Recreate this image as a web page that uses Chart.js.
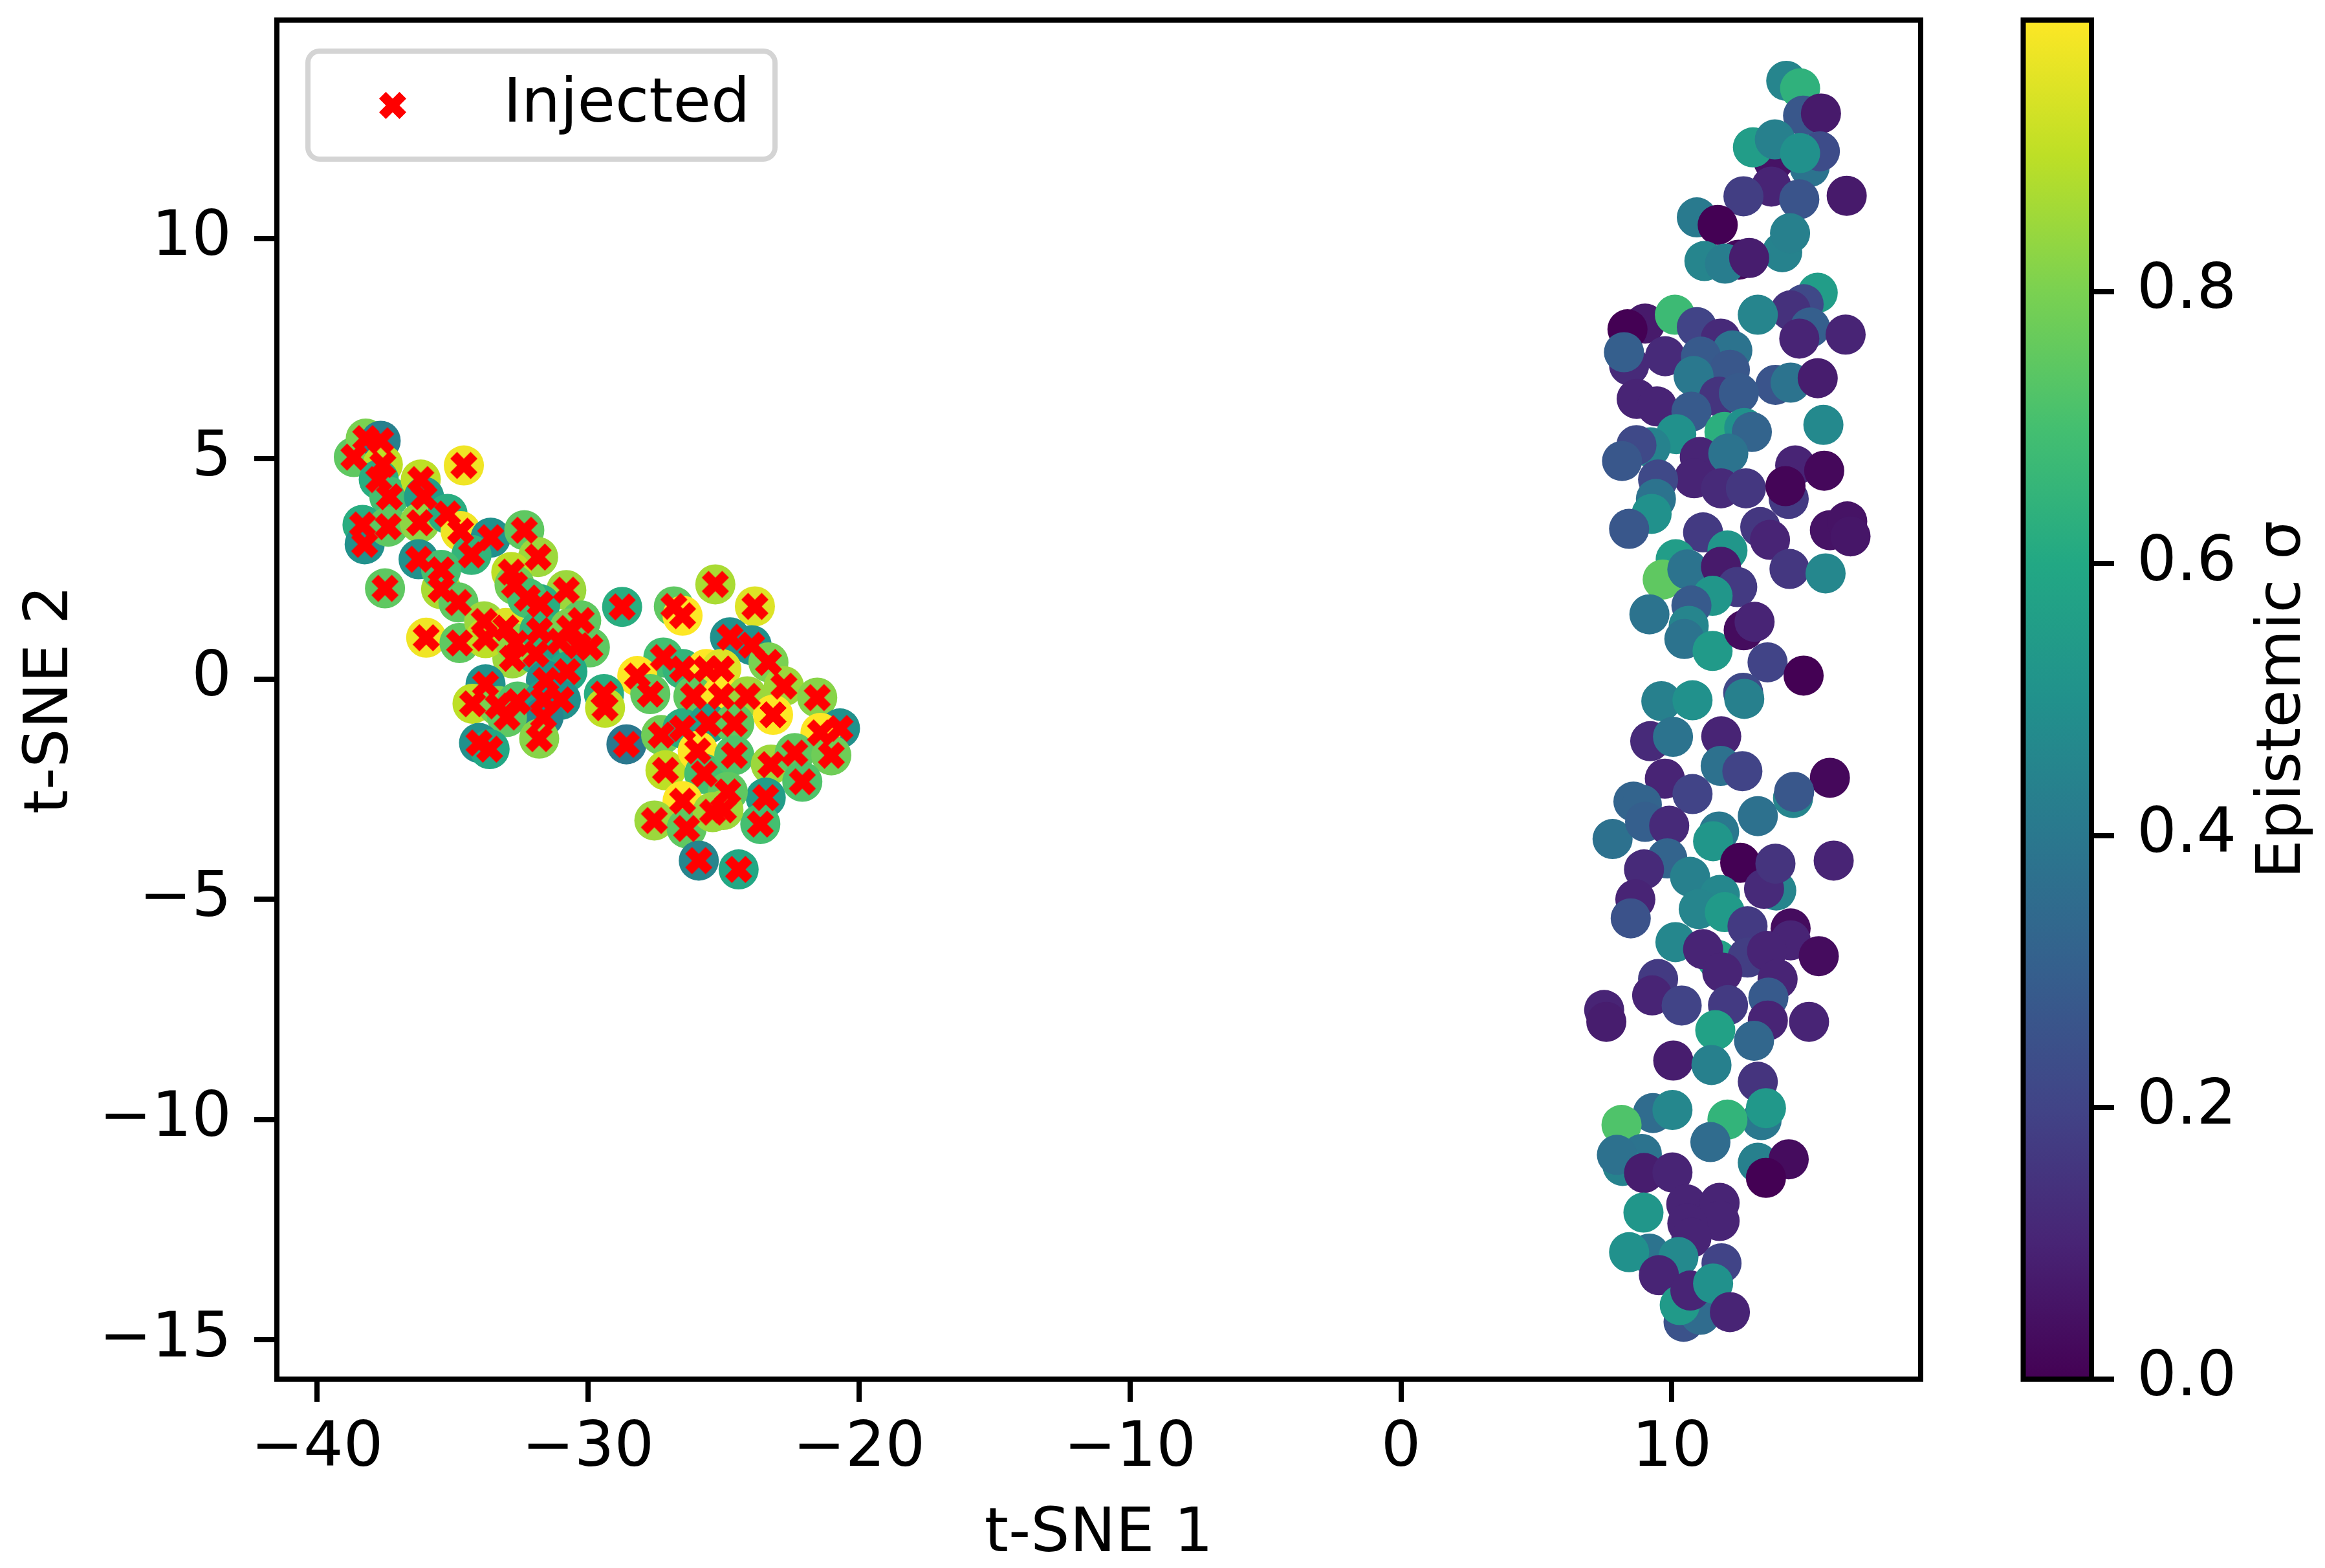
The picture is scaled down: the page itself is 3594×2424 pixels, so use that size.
<!DOCTYPE html>
<html lang="en">
<head>
  <meta charset="UTF-8" />
  <title>t-SNE – epistemic uncertainty</title>
  <script src="https://cdn.jsdelivr.net/npm/chart.js"></script>
  <style>
    html, body { margin: 0; padding: 0; background: #fff; }
    canvas { display: block; }
  </style>
</head>
<body>
  <canvas id="tsne" width="3594" height="2424"></canvas>

  <script>
    // clean samples (right cluster)
    const cleanX = [
      14.22, 14.73, 14.84, 15.50, 15.08, 15.46, 13.75, 13.67, 12.99, 13.80, 14.73, 12.64, 14.70, 16.45, 10.92, 11.69,
      14.07, 14.36, 12.47, 11.20, 11.96, 12.85, 15.38, 14.86, 14.38, 15.10, 14.70, 16.41, 13.17, 9.01, 8.36, 10.11,
      10.92, 11.80, 12.23, 8.42, 8.23, 9.75, 11.07, 12.14, 10.80, 13.82, 14.38, 15.38, 11.74,
      12.47, 8.70, 9.45, 10.72, 11.94, 12.67, 12.95, 15.59, 10.16, 9.21, 8.69, 8.16, 11.03, 12.08, 10.82, 11.81,
      12.73, 9.49, 9.41, 9.25, 8.42, 14.55, 15.62, 14.31, 14.19, 11.15, 13.26, 13.62, 15.83, 16.47, 16.59, 12.05,
      10.14, 9.66, 10.57, 11.81, 12.41, 11.50, 14.34, 15.67, 10.72, 9.17, 10.62, 10.46, 11.50, 12.65, 13.05, 13.53, 14.86,
      9.61, 10.76, 12.63, 12.67, 9.20, 10.04, 11.82, 11.80, 12.60, 9.74, 10.76, 8.58, 8.89, 15.83, 14.47, 14.51,
      13.17, 7.81, 9.01, 9.90, 11.74, 11.52, 9.83, 8.97, 10.67, 12.52, 13.85, 13.40, 13.82, 15.97, 11.77, 8.65,
      8.48, 10.99, 11.95, 12.79, 14.38, 14.38, 10.13, 11.67, 11.15, 12.79, 13.51, 15.42, 9.49, 11.86, 13.90,
      7.50, 7.58, 9.27, 10.36, 12.07, 13.56, 13.54, 15.06, 11.60, 13.03, 10.05, 11.46, 13.17, 13.31, 13.47, 12.05,
      9.30, 10.02, 8.14, 8.89, 8.18, 7.97, 11.42, 13.17, 14.31, 13.47, 8.97, 10.02, 10.53, 11.76, 11.76, 10.57,
      10.72, 8.95, 9.17, 8.42, 10.24, 11.83, 9.52, 10.43, 11.05, 10.29, 10.68, 11.52, 12.14
    ];
    const cleanY = [
      13.58, 13.41, 12.79, 12.84, 11.62, 11.98, 11.76, 11.18, 12.07, 12.25, 11.94, 10.96, 10.89, 10.97, 10.48, 10.31,
      9.69, 10.12, 9.52, 9.49, 9.43, 9.56, 8.77, 8.51, 8.37, 7.98, 7.73, 7.82, 8.27, 8.07, 7.94, 8.27,
      7.99, 7.73, 7.46, 7.12, 7.42, 7.33, 7.32, 7.02, 6.88, 6.68, 6.73, 6.83, 6.41,
      6.49, 6.36, 6.19, 6.07, 5.61, 5.70, 5.61, 5.77, 5.56, 5.26, 5.31, 4.95, 5.04, 5.12, 4.56, 4.33,
      4.33, 4.53, 4.09, 3.75, 3.41, 4.85, 4.73, 4.09, 4.38, 3.33, 3.45, 3.16, 3.38, 3.58, 3.24, 2.92,
      2.72, 2.26, 2.49, 2.55, 2.09, 1.89, 2.50, 2.40, 1.67, 1.47, 1.21, 0.91, 0.64, 1.11, 1.30, 0.38, 0.08,
      -0.50, -0.48, -0.31, -0.45, -1.41, -1.31, -1.30, -1.97, -2.09, -2.26, -2.61, -2.78, -2.85, -2.24, -2.70, -2.56,
      -3.11, -3.63, -3.24, -3.33, -3.46, -3.68, -4.07, -4.32, -4.49, -4.17, -4.80, -4.76, -4.19, -4.12, -4.90, -5.00,
      -5.43, -5.22, -5.29, -5.61, -5.66, -5.93, -5.97, -6.37, -6.13, -6.32, -6.17, -6.29, -6.81, -6.66, -6.81,
      -7.51, -7.78, -7.18, -7.41, -7.40, -7.23, -7.75, -7.78, -7.97, -8.21, -8.66, -8.76, -9.14, -10.01, -9.74, -10.00,
      -9.85, -9.78, -10.12, -10.78, -11.05, -10.80, -10.51, -10.98, -10.90, -11.32, -11.21, -11.20, -11.92, -11.89, -12.30, -12.36,
      -12.68, -12.11, -13.04, -13.01, -13.12, -13.26, -13.53, -14.59, -14.43, -14.21, -13.88, -13.72, -14.37
    ];
    const cleanSigma = [
      0.45, 0.64, 0.27, 0.07, 0.38, 0.23, 0.05, 0.10, 0.55, 0.43, 0.50, 0.18, 0.26, 0.07, 0.41, 0.00,
      0.44, 0.43, 0.02, 0.45, 0.42, 0.08, 0.55, 0.22, 0.14, 0.30, 0.10, 0.10, 0.45, 0.07, 0.00, 0.68,
      0.20, 0.12, 0.38, 0.12, 0.30, 0.12, 0.28, 0.27, 0.40, 0.26, 0.38, 0.08, 0.15,
      0.28, 0.10, 0.10, 0.28, 0.63, 0.50, 0.32, 0.47, 0.50, 0.44, 0.22, 0.27, 0.10, 0.38, 0.10, 0.12,
      0.16, 0.22, 0.38, 0.50, 0.27, 0.10, 0.02, 0.17, 0.01, 0.17, 0.16, 0.10, 0.05, 0.05, 0.06, 0.52,
      0.55, 0.75, 0.38, 0.07, 0.17, 0.52, 0.16, 0.46, 0.28, 0.38, 0.45, 0.38, 0.54, 0.03, 0.10, 0.20, 0.00,
      0.43, 0.50, 0.22, 0.43, 0.12, 0.38, 0.10, 0.37, 0.20, 0.10, 0.20, 0.32, 0.32, 0.02, 0.45, 0.27,
      0.37, 0.37, 0.30, 0.12, 0.40, 0.52, 0.32, 0.12, 0.43, 0.00, 0.45, 0.12, 0.15, 0.10, 0.46, 0.10,
      0.25, 0.45, 0.54, 0.17, 0.03, 0.10, 0.46, 0.57, 0.10, 0.18, 0.10, 0.03, 0.17, 0.10, 0.10,
      0.10, 0.08, 0.10, 0.20, 0.17, 0.28, 0.10, 0.10, 0.57, 0.33, 0.08, 0.43, 0.15, 0.40, 0.53, 0.65,
      0.35, 0.46, 0.72, 0.38, 0.44, 0.37, 0.35, 0.43, 0.03, 0.00, 0.08, 0.10, 0.10, 0.10, 0.10, 0.10,
      0.10, 0.52, 0.38, 0.50, 0.47, 0.20, 0.10, 0.25, 0.35, 0.54, 0.10, 0.50, 0.10
    ];

    // injected samples (left cluster)
    const injX = [
      -38.64, -38.20, -37.65, -37.57, -37.72, -37.33, -36.17, -36.05, -34.58, -38.32, -38.24, -37.37, -36.21,
      -36.25, -35.18, -34.70, -33.59, -32.35, -31.84, -34.30, -37.49, -35.42, -34.78, -32.83, -32.71, -30.80,
      -31.76, -30.25, -29.93, -35.97, -34.74, -33.83, -33.03, -32.79, -31.92, -31.04, -32.24, -35.42,
      -33.78, -32.67, -31.79, -30.68, -30.36, -30.76, -31.55, -33.78, -34.26, -33.31, -32.60, -31.64, -31.00,
      -31.64, -32.99, -34.02, -33.63, -31.80,
      -28.74, -26.83, -26.51, -25.30, -23.84, -24.76, -23.96, -23.34, -22.77, -21.54, -27.22, -28.18, -27.70,
      -29.41, -29.37, -26.51, -25.63, -25.08, -26.11, -25.08, -24.12, -28.58, -27.30, -26.51, -25.56, -24.60,
      -23.17, -20.70, -21.42, -27.14, -25.95, -25.71, -24.60, -23.25, -22.37, -21.02, -22.09, -23.44, -23.64,
      -24.84, -25.00, -26.51, -27.55, -26.36, -25.91, -24.44, -25.40
    ];
    const injY = [
      5.04, 5.46, 5.41, 4.87, 4.53, 4.14, 4.53, 4.14, 4.85, 3.50, 3.06, 3.46, 3.55,
      2.72, 3.75, 3.36, 3.21, 3.38, 2.77, 2.82, 2.06, 2.04, 1.74, 2.43, 2.14, 2.02,
      1.70, 1.33, 0.72, 0.94, 0.82, 1.31, 1.16, 0.47, 0.57, 0.86, 1.84, 2.48,
      0.93, 0.81, 1.10, 1.15, 0.76, 0.17, -0.03, -0.12, -0.56, -0.61, -0.51, -0.47, -0.47,
      -0.86, -0.86, -1.45, -1.59, -1.35,
      1.64, 1.65, 1.44, 2.15, 1.65, 0.95, 0.77, 0.38, -0.16, -0.42, 0.49, 0.07, -0.34,
      -0.34, -0.65, 0.23, 0.23, 0.23, -0.39, -0.39, -0.39, -1.48, -1.27, -1.12, -1.01, -1.01,
      -0.81, -1.12, -1.22, -2.07, -1.63, -2.15, -1.73, -1.94, -1.68, -1.73, -2.33, -2.69, -3.29,
      -2.56, -2.97, -2.77, -3.21, -3.39, -4.12, -4.32, -3.02
    ];
    const injSigma = [
      0.75, 0.80, 0.43, 0.90, 0.62, 0.70, 0.90, 0.55, 0.98, 0.62, 0.50, 0.75, 0.83,
      0.50, 0.62, 0.98, 0.50, 0.75, 0.85, 0.65, 0.75, 0.87, 0.75, 0.90, 0.78, 0.85,
      0.62, 0.75, 0.75, 0.98, 0.75, 0.85, 0.95, 0.85, 0.62, 0.55, 0.70, 0.70,
      0.90, 0.83, 0.65, 0.80, 0.75, 0.60, 0.50, 0.50, 0.90, 0.80, 0.72, 0.55, 0.50,
      0.45, 0.75, 0.50, 0.60, 0.82,
      0.62, 0.75, 1.00, 0.87, 0.95, 0.50, 0.50, 0.80, 0.85, 0.82, 0.70, 1.00, 0.75,
      0.62, 0.90, 0.65, 1.00, 0.95, 0.75, 1.00, 0.85, 0.40, 0.78, 0.62, 0.55, 0.75,
      1.00, 0.50, 1.00, 0.90, 1.00, 0.70, 0.72, 0.85, 0.75, 0.78, 0.72, 0.55, 0.70,
      0.75, 0.85, 1.00, 0.85, 0.75, 0.45, 0.60, 0.85
    ];

    const xTicks = [-40, -30, -20, -10, 0, 10];
    const yTicks = [-15, -10, -5, 0, 5, 10];
    const sigmaTicks = [0, 0.2, 0.4, 0.6, 0.8];
    const xRange = [-41.48, 19.18];
    const yRange = [-15.89, 14.96];
    const sigmaRange = [0, 1];

    const FONT = 'DejaVu Sans';

    // viridis, sampled every 0.1
    const viridis = ['#440154', '#482475', '#414487', '#355f8d', '#2a788e', '#21918c',
                     '#22a884', '#44bf70', '#7ad151', '#bddf26', '#fde725'];

    function hexRgb(h) {
      return [1, 3, 5].map(i => parseInt(h.slice(i, i + 2), 16));
    }

    function viridisAt(v) {
      const t = Math.min(1, Math.max(0, (v - sigmaRange[0]) / (sigmaRange[1] - sigmaRange[0])));
      const p = t * (viridis.length - 1);
      const i = Math.min(viridis.length - 2, Math.floor(p));
      const f = p - i;
      const a = hexRgb(viridis[i]), b = hexRgb(viridis[i + 1]);
      const c = a.map((ch, k) => Math.round(ch + (b[k] - ch) * f));
      return `rgb(${c[0]},${c[1]},${c[2]})`;
    }

    // matplotlib's filled "X" marker
    function makeXMarker(size) {
      const c = document.createElement('canvas');
      c.width = c.height = size + 2;
      const g = c.getContext('2d');
      const verts = [[-1, -2], [0, -1], [1, -2], [2, -1], [1, 0], [2, 1],
                     [1, 2], [0, 1], [-1, 2], [-2, 1], [-1, 0], [-2, -1]];
      g.translate(c.width / 2, c.height / 2);
      g.beginPath();
      verts.forEach(([vx, vy], i) => {
        const px = vx / 4 * size, py = vy / 4 * size;
        if (i === 0) g.moveTo(px, py); else g.lineTo(px, py);
      });
      g.closePath();
      g.fillStyle = '#ff0000';
      g.fill();
      return c;
    }
    const xMarker = makeXMarker(42);

    const toPoints = (xs, ys) => xs.map((x, i) => ({ x, y: ys[i] }));
    const minus = v => (v < 0 ? '\u2212' + Math.abs(v) : String(v));
    const zeroPad = s => { s.paddingLeft = s.paddingRight = s.paddingTop = s.paddingBottom = 0; };
    const tickFont = { family: FONT, size: 97, lineHeight: 1 };
    const labelFont = { family: FONT, size: 95, lineHeight: 1 };

    const extras = {
      id: 'extras',
      beforeDraw(chart) {
        const ctx = chart.ctx;
        ctx.save();
        ctx.fillStyle = '#fff';
        ctx.fillRect(0, 0, chart.width, chart.height);
        ctx.restore();
      },
      afterDatasetsDraw(chart) {
        const { ctx, chartArea: ca } = chart;
        ctx.save();
        ctx.strokeStyle = '#000';
        ctx.lineWidth = 8;
        ctx.strokeRect(ca.left, ca.top, ca.right - ca.left, ca.bottom - ca.top);
        ctx.restore();
      },
      afterDraw(chart) {
        const { ctx, chartArea: ca } = chart;
        const cb = chart.scales.cb;

        // colour bar
        const top = cb.getPixelForValue(sigmaRange[1]);
        const bot = cb.getPixelForValue(sigmaRange[0]);
        const x1 = cb.left, x0 = x1 - 105.5;
        const grad = ctx.createLinearGradient(0, bot, 0, top);
        viridis.forEach((c, i) => grad.addColorStop(i / (viridis.length - 1), c));
        ctx.save();
        ctx.fillStyle = grad;
        ctx.fillRect(x0, top, x1 - x0, bot - top);
        ctx.strokeStyle = '#000';
        ctx.lineWidth = 8;
        ctx.strokeRect(x0, top, x1 - x0, bot - top);

        // colour bar label
        ctx.translate(3530, (top + bot) / 2);
        ctx.rotate(-Math.PI / 2);
        ctx.fillStyle = '#000';
        ctx.font = `${labelFont.size}px "${FONT}"`;
        ctx.textAlign = 'center';
        ctx.textBaseline = 'middle';
        ctx.fillText('Epistemic \u03c3', 0, 0);
        ctx.restore();

        // legend
        const lx = ca.left + 48, ly = ca.top + 48, lw = 722, lh = 167;
        ctx.save();
        ctx.beginPath();
        ctx.roundRect(lx, ly, lw, lh, 18);
        ctx.fillStyle = 'rgba(255,255,255,0.8)';
        ctx.fill();
        ctx.strokeStyle = '#d4d4d4';
        ctx.lineWidth = 8;
        ctx.stroke();
        ctx.drawImage(xMarker, lx + 131 - xMarker.width / 2, ly + 84 - xMarker.height / 2);
        ctx.fillStyle = '#000';
        ctx.font = `${labelFont.size}px "${FONT}"`;
        ctx.textAlign = 'left';
        ctx.textBaseline = 'alphabetic';
        ctx.fillText(chart.data.datasets[0].label, lx + 302, ly + 109);
        ctx.restore();
      }
    };

    new Chart(document.getElementById('tsne'), {
      type: 'scatter',
      data: {
        datasets: [
          {
            label: 'Injected',
            data: toPoints(injX, injY),
            pointStyle: xMarker,
            pointRadius: 21,
            backgroundColor: '#ff0000',
            borderWidth: 0,
            order: 0
          },
          {
            label: 'Injected σ',
            data: toPoints(injX, injY),
            pointStyle: 'circle',
            pointRadius: 31,
            backgroundColor: injSigma.map(viridisAt),
            borderWidth: 0,
            order: 1
          },
          {
            label: 'Clean σ',
            data: toPoints(cleanX, cleanY),
            pointStyle: 'circle',
            pointRadius: 31,
            backgroundColor: cleanSigma.map(viridisAt),
            borderWidth: 0,
            order: 2
          }
        ]
      },
      options: {
        responsive: false,
        animation: false,
        devicePixelRatio: 1,
        events: [],
        layout: { padding: { left: 0, top: 28, right: 0, bottom: 0 } },
        plugins: { legend: { display: false }, tooltip: { enabled: false } },
        scales: {
          x: {
            type: 'linear',
            position: 'bottom',
            min: xRange[0],
            max: xRange[1],
            afterBuildTicks: s => { s.ticks = xTicks.map(v => ({ value: v })); },
            afterFit: s => { s.height = 292; zeroPad(s); },
            ticks: { autoSkip: false, maxRotation: 0, font: tickFont, color: '#000', padding: 25, callback: v => minus(v) },
            grid: { drawOnChartArea: false, tickLength: 35, lineWidth: 8, color: '#000' },
            border: { display: false },
            title: { display: true, text: 't-SNE 1', color: '#000', font: labelFont, padding: { top: 0, bottom: 3 } }
          },
          y: {
            type: 'linear',
            position: 'left',
            min: yRange[0],
            max: yRange[1],
            afterBuildTicks: s => { s.ticks = yTicks.map(v => ({ value: v })); },
            afterFit: s => { s.width = 428; zeroPad(s); },
            ticks: { autoSkip: false, font: tickFont, color: '#000', padding: 35, callback: v => minus(v) },
            grid: { drawOnChartArea: false, tickLength: 35, lineWidth: 8, color: '#000' },
            border: { display: false },
            title: { display: true, text: 't-SNE 2', color: '#000', font: labelFont, padding: { top: 32, bottom: 0 } }
          },
          cb: {
            type: 'linear',
            position: 'right',
            weight: 2,
            min: sigmaRange[0],
            max: sigmaRange[1],
            afterBuildTicks: s => { s.ticks = sigmaTicks.map(v => ({ value: v })); },
            afterFit: s => { s.width = 361; zeroPad(s); },
            ticks: { autoSkip: false, font: tickFont, color: '#000', padding: 35, callback: v => v.toFixed(1) },
            grid: { drawOnChartArea: false, tickLength: 35, lineWidth: 8, color: '#000' },
            border: { display: false }
          },
          spacer: {
            type: 'linear',
            position: 'right',
            weight: 1,
            afterFit: s => { s.width = 264; zeroPad(s); },
            ticks: { display: false },
            grid: { display: false },
            border: { display: false }
          }
        }
      },
      plugins: [extras]
    });
  </script>
</body>
</html>
